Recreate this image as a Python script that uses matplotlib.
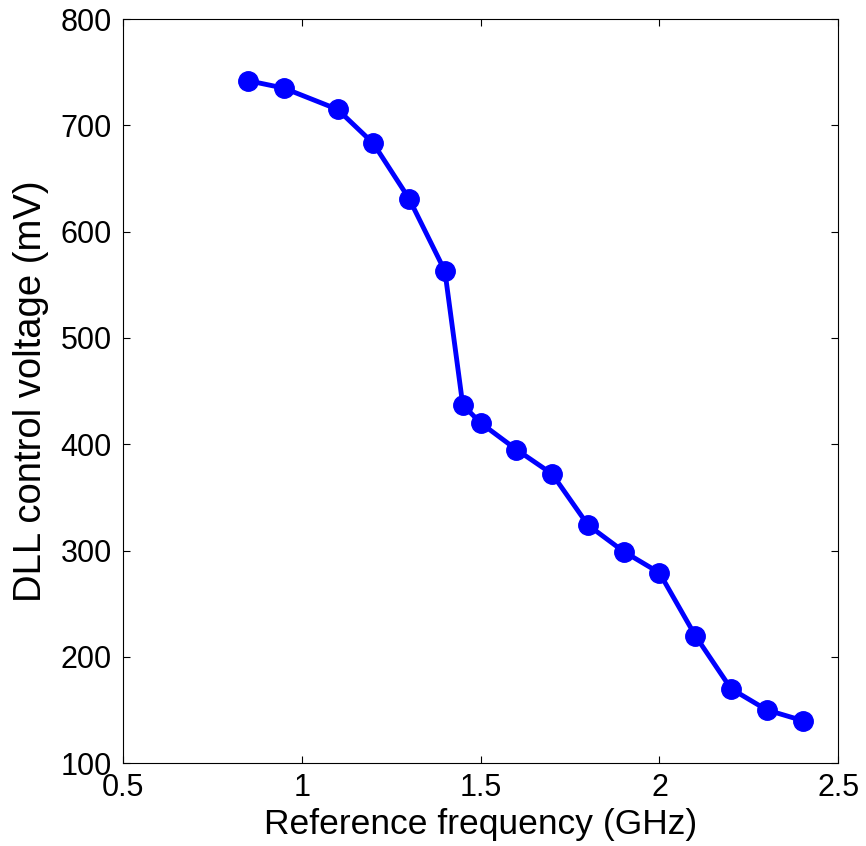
import matplotlib
matplotlib.use("Agg")
import matplotlib.pyplot as plt

freq_ghz = [0.85, 0.95, 1.1, 1.2, 1.3, 1.4, 1.45, 1.5, 1.6, 1.7, 1.8, 1.9, 2.0, 2.1, 2.2, 2.3, 2.4]
vctrl_mv = [742, 735, 715, 683, 631, 563, 437, 420, 395, 372, 324, 299, 279, 220, 170, 150, 140]

plt.rcParams.update({
    'font.family': ['Liberation Sans', 'DejaVu Sans'],
    'xtick.direction': 'in',
    'ytick.direction': 'in',
    'xtick.top': True,
    'ytick.right': True,
    'axes.linewidth': 0.8,
})

fig = plt.figure(figsize=(8.66, 8.46), dpi=100)
ax = fig.add_axes([0.142, 0.098, 0.826, 0.8795])

ax.plot(freq_ghz, vctrl_mv, '-o', color='#0000FF', linewidth=3.5,
        markersize=14, markerfacecolor='#0000FF', markeredgecolor='#0000FF')

ax.set_xlim(0.5, 2.5)
ax.set_ylim(100, 800)
ax.set_xticks([0.5, 1, 1.5, 2, 2.5])
ax.set_xticklabels(['0.5', '1', '1.5', '2', '2.5'])
ax.set_yticks(range(100, 801, 100))
ax.tick_params(labelsize=22, length=5, width=0.8)
ax.tick_params(axis='y', pad=8)
ax.tick_params(axis='x', pad=7)

ax.set_xlabel('Reference frequency (GHz)', fontsize=25.5, labelpad=4)
ax.set_ylabel('DLL control voltage (mV)', fontsize=27.5, labelpad=8)

fig.savefig('out.png', dpi=100)
